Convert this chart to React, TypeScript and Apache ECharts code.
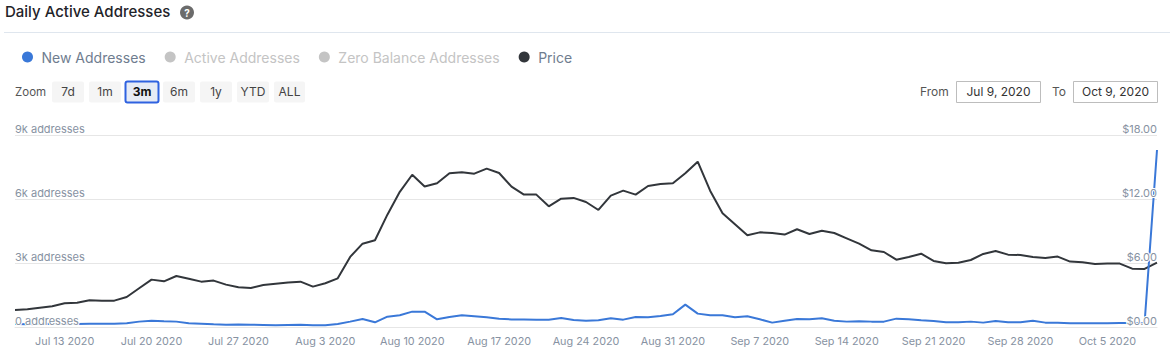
import React, { useEffect, useRef } from "react";
import * as echarts from "echarts";

const FONT = "Inter, 'Noto Sans', sans-serif";
const title = "Daily Active Addresses";
const seriesNames = ["New Addresses", "Active Addresses", "Zero Balance Addresses", "Price"];
const zoomLabels = ["7d", "1m", "3m", "6m", "1y", "YTD", "ALL"];
const zoomStarts = [52, 89, 125.5, 163, 200, 237, 274];
const zoomEnds = [84, 121, 158.5, 195, 232, 269, 305];
const activeZoom = "3m";
const fromDate = "Jul 9, 2020";
const toDate = "Oct 9, 2020";

const monthNames = ["Jul", "Aug", "Sep", "Oct"];
const monthLengths = [31, 31, 30, 9];
const categories: string[] = [];
monthNames.forEach((m, k) => {
  for (let d = k === 0 ? 9 : 1; d <= monthLengths[k]; d++) categories.push(`${m} ${d} 2020`);
});

const price = [
  1.62, 1.69, 1.84, 1.97, 2.25, 2.31, 2.53, 2.5, 2.5, 2.84, 3.66, 4.47, 4.31, 4.81, 4.56, 4.28, 4.38, 4.0, 3.75, 3.69,
  3.97, 4.09, 4.19, 4.28, 3.81, 4.13, 4.59, 6.6, 7.84, 8.16, 10.56, 12.7, 14.3, 13.2, 13.5, 14.44, 14.53, 14.4, 14.88,
  14.47, 13.19, 12.44, 12.44, 11.34, 12.06, 12.13, 11.75, 11.0, 12.34, 12.81, 12.44, 13.25, 13.44, 13.5, 14.44, 15.53,
  12.81, 10.69, 9.66, 8.63, 8.9, 8.84, 8.69, 9.19, 8.75, 9.06, 8.84, 8.34, 7.84, 7.22, 7.06, 6.34, 6.59, 6.9, 6.22,
  6.0, 6.06, 6.31, 6.88, 7.16, 6.81, 6.78, 6.59, 6.5, 6.63, 6.16, 6.09, 5.94, 5.97, 5.97, 5.5, 5.47, 6.06,
];
const newAddresses = [
  156, 141, 156, 172, 156, 156, 172, 172, 172, 188, 266, 312, 281, 266, 188, 172, 141, 125, 133, 125, 109, 94, 109,
  117, 94, 94, 156, 266, 391, 234, 500, 562, 734, 734, 375, 484, 562, 516, 469, 406, 367, 367, 359, 359, 437, 344, 312,
  328, 422, 359, 484, 469, 531, 609, 1062, 641, 562, 562, 469, 516, 375, 219, 312, 391, 375, 422, 312, 266, 281, 266,
  266, 406, 375, 328, 297, 234, 234, 266, 219, 297, 234, 234, 312, 219, 219, 188, 188, 195, 195, 203, 203, 203, 8312,
];
const activeAddresses: number[] = [];
const zeroBalanceAddresses: number[] = [];

const GRID_LEFT = 15;
const GRID_RIGHT = 1157;
const GRID_TOP = 135.3;
const GRID_BOTTOM = 327.3;

const gridColor = "#e6e6e6";
const labelColor = "#8792a2";

export default function App() {
  const ref = useRef<HTMLDivElement>(null);
  useEffect(() => {
    document.body.style.margin = "0";
    const chart = echarts.init(ref.current!, undefined, { renderer: "svg" });
    const labelStyle = {
      show: true,
      inside: true,
      fontFamily: FONT,
      fontSize: 11,
      color: labelColor,
      verticalAlign: "bottom" as const,
      margin: 0,
      lineHeight: 12,
      textBorderColor: "#fff",
      textBorderWidth: 2,
    };
    const txt = (text: string, x: number, y: number, o: any = {}) => ({
      type: "text",
      x,
      y,
      z: 10,
      style: { text, fontFamily: FONT, fontSize: 12, fill: "#444", verticalAlign: "middle", ...o },
    });
    const graphics: any[] = [
      txt(title, 5, 11, { fontSize: 15, fontWeight: 500, fill: "#1f2329" }),
      { type: "circle", shape: { cx: 187, cy: 12.5, r: 7 }, style: { fill: "#6b6b6b" } },
      txt("?", 187, 12.8, { fontSize: 10, fontWeight: 700, fill: "#fff", align: "center" }),
      { type: "line", shape: { x1: 4, y1: 32.5, x2: 1170, y2: 32.5 }, style: { stroke: "#dfe6ee", lineWidth: 1 } },
      txt("Zoom", 15, 92, { fontSize: 11.5, fill: "#555" }),
      txt("From", 920, 91, { fill: "#555" }),
      { type: "rect", shape: { x: 956.5, y: 81.5, width: 84, height: 21 }, style: { fill: "#fff", stroke: "#bdbdbd", lineWidth: 1 } },
      txt(fromDate, 998.5, 91, { align: "center", fill: "#333" }),
      txt("To", 1052, 91, { fill: "#555" }),
      { type: "rect", shape: { x: 1073.5, y: 81.5, width: 84, height: 21 }, style: { fill: "#fff", stroke: "#bdbdbd", lineWidth: 1 } },
      txt(toDate, 1115.5, 91, { align: "center", fill: "#333" }),
    ];
    zoomLabels.forEach((label, i) => {
      const on = label === activeZoom;
      const x0 = zoomStarts[i];
      const x1 = zoomEnds[i];
      graphics.push({
        type: "rect",
        shape: { x: x0, y: 81.5, width: x1 - x0, height: 21, r: 2 },
        style: on ? { fill: "#e6ebf5", stroke: "#2f62e0", lineWidth: 2 } : { fill: "#f5f5f5" },
      });
      graphics.push(
        txt(label, (x0 + x1) / 2, 91, { align: "center", fontWeight: on ? 700 : 400, fill: on ? "#111" : "#444" }),
      );
    });

    chart.setOption({
      animation: false,
      textStyle: { fontFamily: FONT },
      grid: {
        left: GRID_LEFT,
        right: 1170 - GRID_RIGHT,
        top: GRID_TOP,
        bottom: 353 - GRID_BOTTOM,
      },
      legend: {
        left: 22,
        top: 50,
        padding: 0,
        itemWidth: 18,
        itemHeight: 11,
        itemGap: 19,
        icon: "circle",
        textStyle: { fontSize: 14, fontFamily: FONT, color: "#6f7d8f" },
        inactiveColor: "#c4c4c4",
        data: seriesNames,
        selected: { "Active Addresses": false, "Zero Balance Addresses": false },
      },
      xAxis: {
        type: "category",
        boundaryGap: false,
        data: categories,
        axisLine: { lineStyle: { color: gridColor } },
        axisTick: { show: false },
        axisLabel: {
          interval: (i: number) => i >= 4 && (i - 4) % 7 === 0,
          color: labelColor,
          fontFamily: FONT,
          fontSize: 10.8,
          margin: 9,
        },
      },
      yAxis: [
        {
          type: "value",
          min: 0,
          max: 9000,
          interval: 3000,
          position: "left",
          z: 5,
          axisLine: { show: false },
          axisTick: { show: false },
          splitLine: { show: false },
          axisLabel: {
            ...labelStyle,
            align: "left",
            formatter: (v: number) => `${v === 0 ? 0 : v / 1000 + "k"} addresses`,
          },
        },
        {
          type: "value",
          min: 0,
          max: 18,
          interval: 6,
          position: "right",
          z: 5,
          axisLine: { show: false },
          axisTick: { show: false },
          splitLine: { show: false },
          axisLabel: { ...labelStyle, align: "right", formatter: (v: number) => `$${v.toFixed(2)}` },
        },
        {
          type: "value",
          min: 0,
          max: 9000,
          interval: 3000,
          position: "left",
          z: 0,
          axisLine: { show: false },
          axisTick: { show: false },
          axisLabel: { show: false },
          splitLine: { show: true, lineStyle: { color: gridColor, width: 1 } },
        },
      ],
      series: [
        { name: seriesNames[0], type: "line", data: newAddresses, yAxisIndex: 0, showSymbol: false, lineStyle: { color: "#3a78d8", width: 2 }, itemStyle: { color: "#3a78d8" }, z: 3 },
        { name: seriesNames[1], type: "line", data: activeAddresses, yAxisIndex: 0, showSymbol: false, itemStyle: { color: "#8bc34a" } },
        { name: seriesNames[2], type: "line", data: zeroBalanceAddresses, yAxisIndex: 0, showSymbol: false, itemStyle: { color: "#f0a030" } },
        { name: seriesNames[3], type: "line", data: price, yAxisIndex: 1, showSymbol: false, lineStyle: { color: "#32363b", width: 2 }, itemStyle: { color: "#32363b" }, z: 2 },
      ],
      graphic: graphics,
    });
    return () => chart.dispose();
  }, []);
  return <div ref={ref} style={{ width: 1170, height: 353 }} />;
}
